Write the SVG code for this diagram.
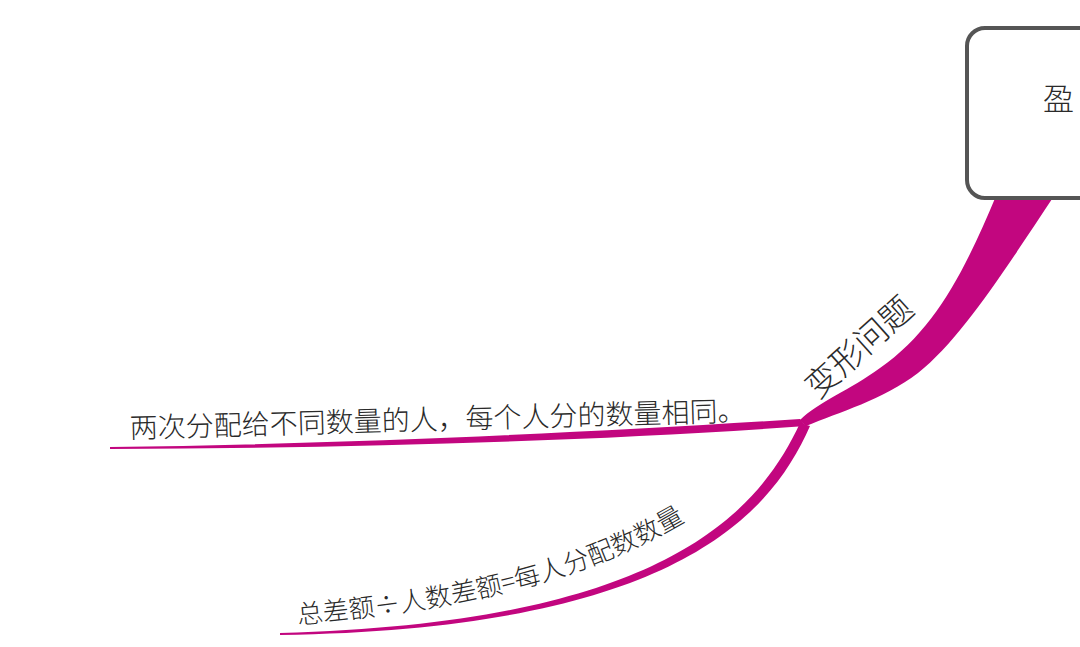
<svg xmlns="http://www.w3.org/2000/svg" width="1080" height="647" viewBox="0 0 1080 647">
<style>
.br{fill:#C2067F;}
.t{font-family:"Noto Sans CJK SC","Noto Sans",sans-serif;fill:#2a2a2a;font-weight:300;}
</style>
<defs>
<path id="p2" d="M 298 624 C 430 612, 575 590, 695 515"/>
</defs>
<rect width="1080" height="647" fill="#ffffff"/>
<g id="connectors">
<path class="br" d="M 996 196 C 965 270, 935 330, 880 368 C 850 390, 818 402, 800 420 L 806 426 C 840 412, 882 400, 918 373 C 962 338, 1006 268, 1054 196 Z"/>
<path class="br" d="M 800 419 C 600 432, 350 444, 110 447 L 110 449 C 350 448, 600 441, 806 426 Z"/>
<path class="br" d="M 800 423 C 756 518, 656 623, 280 633 L 280 635 C 664 629, 768 522, 810 426 Z"/>
</g>
<g id="node-root">
<rect x="967" y="28" width="160" height="170" rx="18" fill="#ffffff" stroke="#555555" stroke-width="4"/>
<text class="t" x="1043" y="110" font-size="31">盈</text>
</g>
<g id="node-bianxing">
<text class="t" font-size="33" transform="translate(818,400) rotate(-42)">变形问题</text>
</g>
<g id="node-liangci">
<text class="t" font-size="28" transform="translate(130,438) rotate(-1.6)">两次分配给不同数量的人，每个人分的数量相同。</text>
</g>
<g id="node-zongcha">
<text class="t" font-size="26"><textPath href="#p2">总差额÷人数差额=每人分配数数量</textPath></text>
</g>
</svg>
